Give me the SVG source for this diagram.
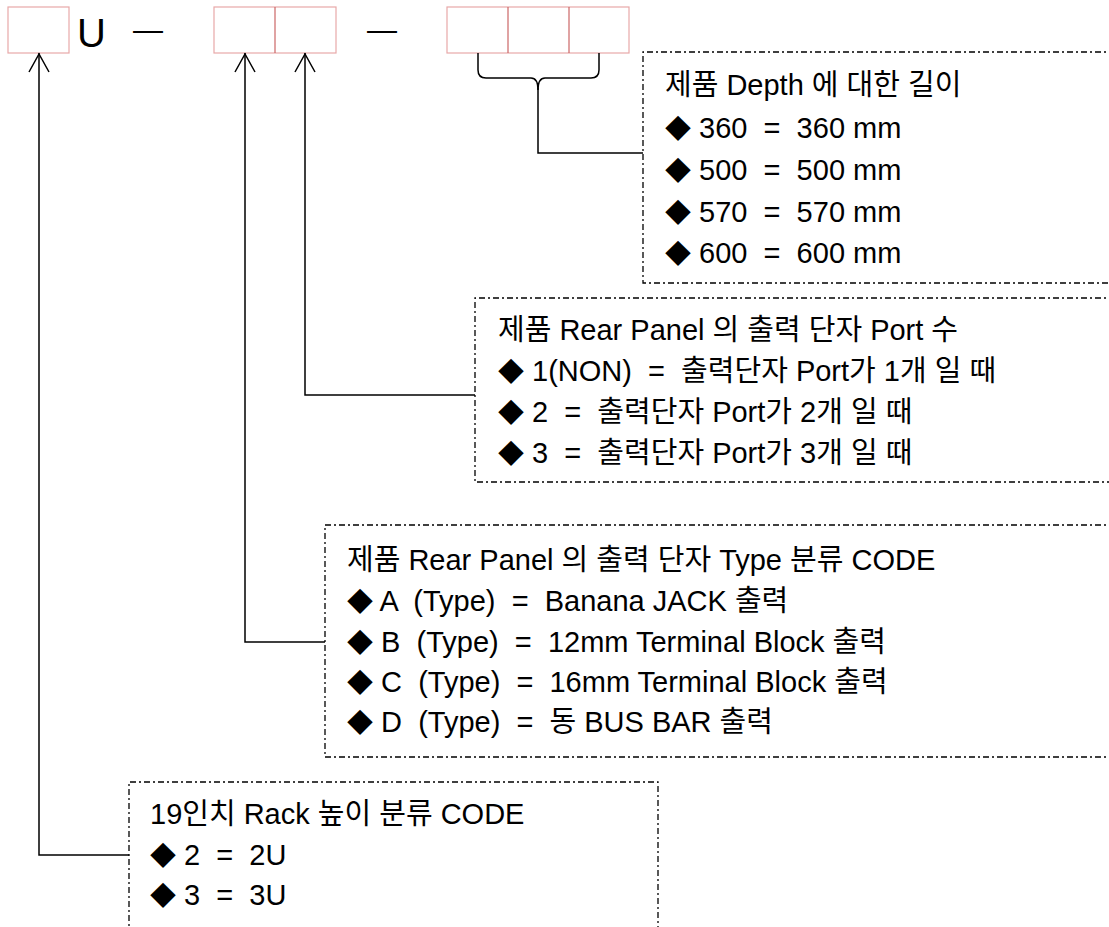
<svg xmlns="http://www.w3.org/2000/svg" width="1109" height="927" viewBox="0 0 1109 927">
<style>
.cell{fill:#fff;stroke:#e8a8a8;stroke-width:1.2}
.div{stroke:#cc6666;stroke-width:1.2}
.box{fill:none;stroke:#000;stroke-width:1.3;stroke-dasharray:6 3 2 3}
.conn{fill:none;stroke:#000;stroke-width:1.5}
.t{font-family:"Liberation Sans","Noto Sans CJK KR",sans-serif;font-size:29px;fill:#000;white-space:pre}
.d{font-family:"Noto Sans CJK KR","DejaVu Sans",sans-serif;font-size:26px}
.big{font-family:"Liberation Sans","Noto Sans CJK KR",sans-serif;font-size:40px;fill:#000}
.dash{font-family:"Liberation Sans",sans-serif;font-size:30px;fill:#000}
</style>
<rect width="1109" height="927" fill="#fff"/>
<g id="code-rack">
<rect class="cell" x="8" y="7" width="61" height="46"/>
</g>
<g id="code-u"><text class="big" x="77" y="47">U</text></g>
<g id="dash1"><text class="dash" x="133" y="40">—</text></g>
<g id="code-type">
<rect class="cell" x="214" y="7" width="122" height="46"/>
<line class="div" x1="275" y1="7" x2="275" y2="53"/>
</g>
<g id="dash2"><text class="dash" x="367" y="40">—</text></g>
<g id="code-depth">
<rect class="cell" x="447" y="7" width="182" height="46"/>
<line class="div" x1="508" y1="7" x2="508" y2="53"/>
<line class="div" x1="569" y1="7" x2="569" y2="53"/>
</g>
<g id="connectors">
<path class="conn" d="M39,53 V855 H129"/>
<path class="conn" d="M29,72 L39,54 L49,72"/>
<path class="conn" d="M245,53 V642 H325"/>
<path class="conn" d="M235,72 L245,54 L255,72"/>
<path class="conn" d="M305,53 V395 H475"/>
<path class="conn" d="M295,72 L305,54 L315,72"/>
<path class="conn" d="M478,53 V70 Q478,78 486,78 H531 Q538,78 538,90 Q538,78 545,78 H591 Q599,78 599,70 V53"/>
<path class="conn" d="M538,88 V153 H643"/>
</g>
<g id="legend-depth">
<path class="box" d="M1115,52 H643 V283 H1115"/>
<text class="t" x="665" y="95">제품 Depth 에 대한 길이</text>
<text class="t" x="665" y="138"><tspan class="d">◆</tspan> 360  =  360 mm</text>
<text class="t" x="665" y="180"><tspan class="d">◆</tspan> 500  =  500 mm</text>
<text class="t" x="665" y="222"><tspan class="d">◆</tspan> 570  =  570 mm</text>
<text class="t" x="665" y="263"><tspan class="d">◆</tspan> 600  =  600 mm</text>
</g>
<g id="legend-port">
<path class="box" d="M1115,298 H475 V482 H1115"/>
<text class="t" x="498" y="340">제품 Rear Panel 의 출력 단자 Port 수</text>
<text class="t" x="498" y="381"><tspan class="d">◆</tspan> 1(NON)  =  출력단자 Port가 1개 일 때</text>
<text class="t" x="498" y="422"><tspan class="d">◆</tspan> 2  =  출력단자 Port가 2개 일 때</text>
<text class="t" x="498" y="463"><tspan class="d">◆</tspan> 3  =  출력단자 Port가 3개 일 때</text>
</g>
<g id="legend-type">
<path class="box" d="M1115,525 H325 V757 H1115"/>
<text class="t" x="347" y="570">제품 Rear Panel 의 출력 단자 Type 분류 CODE</text>
<text class="t" x="347" y="611"><tspan class="d">◆</tspan> A  (Type)  =  Banana JACK 출력</text>
<text class="t" x="347" y="652"><tspan class="d">◆</tspan> B  (Type)  =  12mm Terminal Block 출력</text>
<text class="t" x="347" y="692"><tspan class="d">◆</tspan> C  (Type)  =  16mm Terminal Block 출력</text>
<text class="t" x="347" y="732"><tspan class="d">◆</tspan> D  (Type)  =  동 BUS BAR 출력</text>
</g>
<g id="legend-rack">
<path class="box" d="M129,935 V782 H658 V935"/>
<text class="t" x="150" y="824">19인치 Rack 높이 분류 CODE</text>
<text class="t" x="150" y="865"><tspan class="d">◆</tspan> 2  =  2U</text>
<text class="t" x="150" y="905"><tspan class="d">◆</tspan> 3  =  3U</text>
</g>
</svg>
